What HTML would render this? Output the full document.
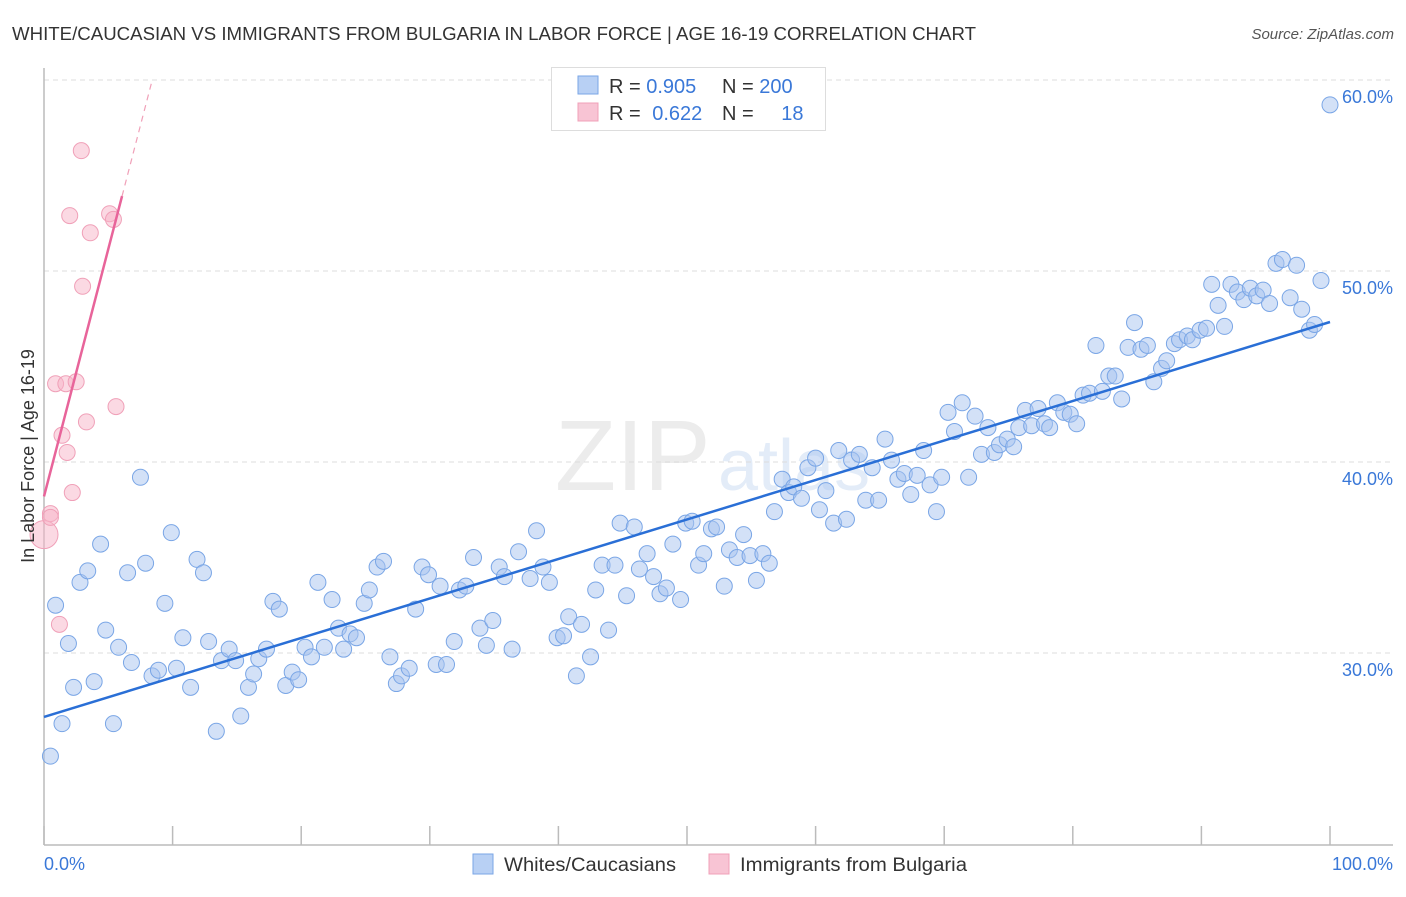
<!DOCTYPE html>
<html><head><meta charset="utf-8"><style>
body{margin:0;background:#fff;font-family:"Liberation Sans",sans-serif;}
svg text{font-family:"Liberation Sans",sans-serif;}
</style></head><body>
<svg id="chart" width="1406" height="892" xmlns="http://www.w3.org/2000/svg">
<text x="12" y="40" font-size="18" fill="#333" textLength="964" lengthAdjust="spacingAndGlyphs">WHITE/CAUCASIAN VS IMMIGRANTS FROM BULGARIA IN LABOR FORCE | AGE 16-19 CORRELATION CHART</text>
<text x="1394" y="39" font-size="15" fill="#555" font-style="italic" text-anchor="end">Source: ZipAtlas.com</text>
<text x="555" y="490" font-size="100" fill="#ececec" font-family="Liberation Serif">ZIP</text>
<text x="718" y="490" font-size="72" fill="#e3ecf8">atlas</text>
<g id="grid"></g>
<g id="axes"></g>
<g id="marks"></g>
<text transform="translate(34,456) rotate(-90)" font-size="18" fill="#333" text-anchor="middle">In Labor Force | Age 16-19</text>
<g>
<rect x="551.5" y="67.5" width="274" height="63" fill="#fff" stroke="#ddd"/>
<rect x="578" y="76" width="20" height="18" fill="#b8d0f4" stroke="#7aa6e6"/>
<rect x="578" y="103" width="20" height="18" fill="#f8c4d4" stroke="#f0a0b8"/>
<text x="609" y="93" font-size="20" fill="#333">R = <tspan fill="#3a78d8">0.905</tspan></text>
<text x="722" y="93" font-size="20" fill="#333">N = <tspan fill="#3a78d8">200</tspan></text>
<text x="609" y="120" font-size="20" fill="#333">R = <tspan fill="#3a78d8" dx="6">0.622</tspan></text>
<text x="722" y="120" font-size="20" fill="#333">N = <tspan fill="#3a78d8" dx="22">18</tspan></text>
</g>
<g>
<rect x="473" y="854" width="20" height="20" fill="#b8d0f4" stroke="#7aa6e6"/>
<text x="504" y="871" font-size="19" fill="#333" textLength="172" lengthAdjust="spacingAndGlyphs">Whites/Caucasians</text>
<rect x="709" y="854" width="20" height="20" fill="#f8c4d4" stroke="#f0a0b8"/>
<text x="740" y="871" font-size="19" fill="#333" textLength="227" lengthAdjust="spacingAndGlyphs">Immigrants from Bulgaria</text>
</g>
</svg>
<script>
const blueX=[0.5,0.9,1.4,1.9,2.3,2.8,3.4,3.9,4.4,4.8,5.4,5.8,6.5,6.8,7.5,7.9,8.4,8.9,9.4,9.9,10.3,10.8,11.4,11.9,12.4,12.8,13.4,13.8,14.4,14.9,15.3,15.9,16.3,16.7,17.3,17.8,18.3,18.8,19.3,19.8,20.3,20.8,21.3,21.8,22.4,22.9,23.3,23.8,24.3,24.9,25.3,25.9,26.4,26.9,27.4,27.8,28.4,28.9,29.4,29.9,30.5,30.8,31.3,31.9,32.3,32.8,33.4,33.9,34.4,34.9,35.4,35.8,36.4,36.9,37.8,38.3,38.8,39.3,39.9,40.4,40.8,41.4,41.8,42.5,42.9,43.4,43.9,44.4,44.8,45.3,45.9,46.3,46.9,47.4,47.9,48.4,48.9,49.5,49.9,50.4,50.9,51.3,51.9,52.3,52.9,53.3,53.9,54.4,54.9,55.4,55.9,56.4,56.8,57.4,57.9,58.3,58.9,59.4,60.0,60.3,60.8,61.4,61.8,62.4,62.8,63.4,63.9,64.4,64.9,65.4,65.9,66.4,66.9,67.4,67.9,68.4,68.9,69.4,69.8,70.3,70.8,71.4,71.9,72.4,72.9,73.4,73.9,74.3,74.9,75.4,75.8,76.3,76.8,77.3,77.8,78.2,78.8,79.3,79.8,80.3,80.8,81.3,81.8,82.3,82.8,83.3,83.8,84.3,84.8,85.3,85.8,86.3,86.9,87.3,87.9,88.3,88.9,89.3,89.9,90.4,90.8,91.3,91.8,92.3,92.8,93.3,93.8,94.3,94.8,95.3,95.8,96.3,96.9,97.4,97.8,98.4,98.8,99.3,100.0];
const blueY=[24.6,32.5,26.3,30.5,28.2,33.7,34.3,28.5,35.7,31.2,26.3,30.3,34.2,29.5,39.2,34.7,28.8,29.1,32.6,36.3,29.2,30.8,28.2,34.9,34.2,30.6,25.9,29.6,30.2,29.6,26.7,28.2,28.9,29.7,30.2,32.7,32.3,28.3,29.0,28.6,30.3,29.8,33.7,30.3,32.8,31.3,30.2,31.0,30.8,32.6,33.3,34.5,34.8,29.8,28.4,28.8,29.2,32.3,34.5,34.1,29.4,33.5,29.4,30.6,33.3,33.5,35.0,31.3,30.4,31.7,34.5,34.0,30.2,35.3,33.9,36.4,34.5,33.7,30.8,30.9,31.9,28.8,31.5,29.8,33.3,34.6,31.2,34.6,36.8,33.0,36.6,34.4,35.2,34.0,33.1,33.4,35.7,32.8,36.8,36.9,34.6,35.2,36.5,36.6,33.5,35.4,35.0,36.2,35.1,33.8,35.2,34.7,37.4,39.1,38.4,38.7,38.1,39.7,40.2,37.5,38.5,36.8,40.6,37.0,40.1,40.4,38.0,39.7,38.0,41.2,40.1,39.1,39.4,38.3,39.3,40.6,38.8,37.4,39.2,42.6,41.6,43.1,39.2,42.4,40.4,41.8,40.5,40.9,41.2,40.8,41.8,42.7,41.9,42.8,42.0,41.8,43.1,42.6,42.5,42.0,43.5,43.6,46.1,43.7,44.5,44.5,43.3,46.0,47.3,45.9,46.1,44.2,44.9,45.3,46.2,46.4,46.6,46.4,46.9,47.0,49.3,48.2,47.1,49.3,48.9,48.5,49.1,48.7,49.0,48.3,50.4,50.6,48.6,50.3,48.0,46.9,47.2,49.5,58.7];
const pinkX=[0,0.5,0.5,0.9,1.2,1.4,1.8,2.0,2.2,1.7,2.5,2.9,3.0,3.3,3.6,5.1,5.4,5.6];
const pinkY=[36.2,37.3,37.1,44.1,31.5,41.4,40.5,52.9,38.4,44.1,44.2,56.3,49.2,42.1,52.0,53.0,52.7,42.9];
const pinkR=[14,8,8,8,8,8,8,8,8,8,8,8,8,8,8,8,8,8];
const blueTrend=[26.65,47.33];
const pinkTrend=[38.2,2.59];
const yTicks=[30,40,50,60];
const yTickLabels=["30.0%","40.0%","50.0%","60.0%"];
const xTickVals=[0,10,20,30,40,50,60,70,80,90,100];
const xEndLabels=["0.0%","100.0%"];

const NS="http://www.w3.org/2000/svg";
const X0=44,X1=1330,Y60=80,PXPER=19.1;
function sx(v){return X0+(X1-X0)*v/100;}
function sy(v){return Y60+(60-v)*PXPER;}
function mk(tag,attrs,parent){const e=document.createElementNS(NS,tag);for(const k in attrs)e.setAttribute(k,attrs[k]);parent.appendChild(e);return e;}
const grid=document.getElementById('grid'),axes=document.getElementById('axes'),marks=document.getElementById('marks');
yTicks.forEach((t,i)=>{
  const l=mk('line',{x1:X0,x2:1393,y1:sy(t),y2:sy(t),stroke:'#ddd','stroke-dasharray':'5,4'},grid);
  
  
  const tx=mk('text',{x:1393,y:sy(t)+23,'font-size':18,fill:'#3a78d8','text-anchor':'end'},grid);
  tx.textContent=yTickLabels[i];
  
  
});
let ax=mk('line',{x1:X0,x2:X0,y1:68,y2:845,stroke:'#bbb','stroke-width':1.5},axes);


ax=mk('line',{x1:X0,x2:1393,y1:845,y2:845,stroke:'#bbb','stroke-width':1.5},axes);


xTickVals.forEach(t=>{
  const l=mk('line',{x1:sx(t),x2:sx(t),y1:826,y2:845,stroke:'#bbb','stroke-width':1.5},axes);
  
  
});
let xl=mk('text',{x:44,y:870,'font-size':18,fill:'#3a78d8'},axes);xl.textContent=xEndLabels[0];


xl=mk('text',{x:1393,y:870,'font-size':18,fill:'#3a78d8','text-anchor':'end'},axes);xl.textContent=xEndLabels[1];



blueX.forEach((x,i)=>{
  const c=mk('circle',{cx:sx(x),cy:sy(blueY[i]),r:8,fill:'rgba(168,196,240,0.5)',stroke:'#7aa6e6','stroke-width':1},marks);
  
  
});
pinkX.forEach((x,i)=>{
  const c=mk('circle',{cx:sx(x),cy:sy(pinkY[i]),r:pinkR[i],fill:'rgba(248,180,200,0.5)',stroke:'#f0a0b8','stroke-width':1},marks);
  
  
});
let tl=mk('line',{x1:sx(0),y1:sy(blueTrend[0]),x2:sx(100),y2:sy(blueTrend[1]),stroke:'#2a6fd6','stroke-width':2.5},marks);


const pxEnd=6.07, pxDash=(60-pinkTrend[0])/pinkTrend[1];
tl=mk('line',{x1:sx(0),y1:sy(pinkTrend[0]),x2:sx(pxEnd),y2:sy(pinkTrend[0]+pinkTrend[1]*pxEnd),stroke:'#e8649a','stroke-width':2.5},marks);


tl=mk('line',{x1:sx(pxEnd),y1:sy(pinkTrend[0]+pinkTrend[1]*pxEnd),x2:sx(pxDash),y2:sy(60),stroke:'#f0a0b8','stroke-width':1.2,'stroke-dasharray':'6,5'},marks);


</script>
</body></html>
